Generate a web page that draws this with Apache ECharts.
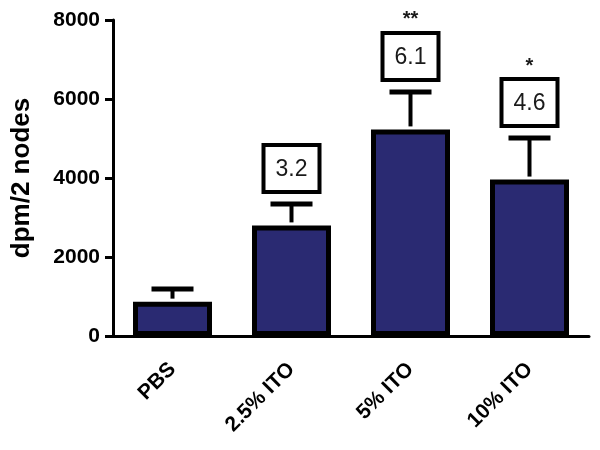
<!DOCTYPE html>
<html>
<head>
<meta charset="utf-8">
<script src="https://cdn.jsdelivr.net/npm/echarts@6/dist/echarts.min.js"></script>
<style>html,body{margin:0;padding:0;background:#fff}#c{width:600px;height:450px}</style>
</head>
<body>
<div id="c"></div>
<script>
var categories = ['PBS', '2.5% ITO', '5% ITO', '10% ITO'];
var means = [870, 2800, 5230, 3960];
var upper = [1190, 3340, 6180, 5010];
var boxLabels = ['', '3.2', '6.1', '4.6'];
var stars = ['', '', '**', '*'];
var yTicks = [0, 2000, 4000, 6000, 8000];

var FONT = '"Liberation Sans", Arial, Helvetica, sans-serif';
var chart = echarts.init(document.getElementById('c'));
var errData = categories.map(function (c, i) { return [i, means[i], upper[i]]; });

chart.setOption({
  animation: false,
  grid: { left: 113, right: 11, top: 20, bottom: 114 },
  xAxis: {
    type: 'category',
    data: categories,
    axisLine: { lineStyle: { color: '#000', width: 3 } },
    axisTick: { alignWithLabel: true, length: 9, lineStyle: { color: '#000', width: 3 } },
    axisLabel: { rotate: 45, margin: 30, color: '#000', fontSize: 21, fontWeight: 'bold', fontFamily: FONT }
  },
  yAxis: {
    type: 'value',
    min: yTicks[0], max: yTicks[yTicks.length - 1], interval: 2000,
    name: 'dpm/2 nodes', nameLocation: 'middle', nameGap: 78,
    nameTextStyle: { color: '#000', fontSize: 26, fontWeight: 'bold', fontFamily: FONT },
    axisLine: { show: true, lineStyle: { color: '#000', width: 3 } },
    axisTick: { show: true, length: 8, lineStyle: { color: '#000', width: 3 } },
    splitLine: { show: false },
    axisLabel: { margin: 13, color: '#000', fontSize: 21, fontWeight: 'bold', fontFamily: FONT,
      formatter: function (v) { return String(v); } }
  },
  series: [
    {
      type: 'bar',
      data: means,
      barWidth: 79,
      itemStyle: { color: '#2a2a72', borderColor: '#000', borderWidth: 5 },
      z: 2
    },
    {
      type: 'custom',
      data: errData,
      z: 3,
      renderItem: function (params, api) {
        var i = api.value(0);
        var top = api.coord([i, api.value(1)]);
        var hi = api.coord([i, api.value(2)]);
        var x = top[0];
        var children = [
          { type: 'line', shape: { x1: x, y1: top[1] - 3, x2: x, y2: hi[1] }, style: { stroke: '#000', lineWidth: 4 } },
          { type: 'line', shape: { x1: x - 21, y1: hi[1], x2: x + 21, y2: hi[1] }, style: { stroke: '#000', lineWidth: 5 } }
        ];
        var lbl = boxLabels[params.dataIndex];
        if (lbl) {
          var bBottom = hi[1] - 12;
          var bTop = bBottom - 47;
          children.push({ type: 'rect', shape: { x: x - 28, y: bTop, width: 56, height: 47 }, style: { fill: '#fff', stroke: '#000', lineWidth: 4 } });
          children.push({ type: 'text', style: { text: lbl, x: x, y: (bTop + bBottom) / 2 + 1, align: 'center', verticalAlign: 'middle', fill: '#1a1a1a', font: '23px ' + FONT } });
          var s = stars[params.dataIndex];
          if (s) {
            children.push({ type: 'text', style: { text: s, x: x, y: bTop - 13, align: 'center', verticalAlign: 'middle', fill: '#1a1a1a', font: 'bold 20px ' + FONT } });
          }
        }
        return { type: 'group', children: children };
      }
    }
  ]
});
</script>
</body>
</html>
